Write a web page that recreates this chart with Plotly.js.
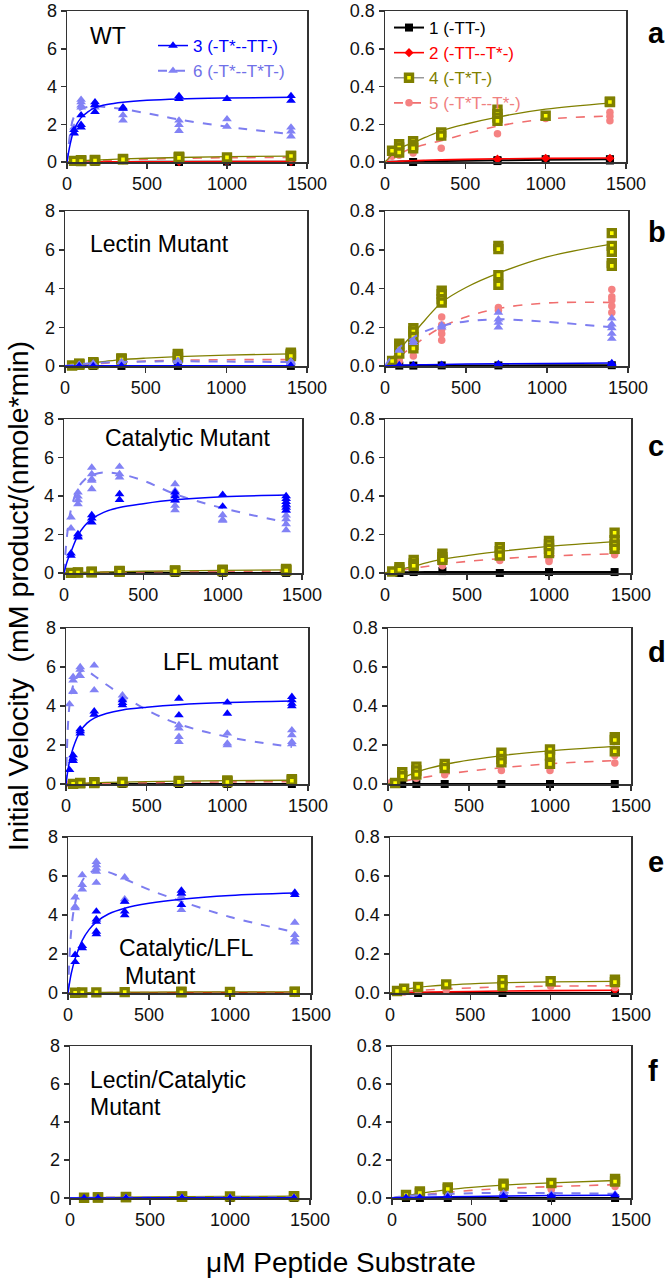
<!DOCTYPE html>
<html><head><meta charset="utf-8">
<script src="https://cdn.plot.ly/plotly-3.0.1.min.js"></script>
<style>html,body{margin:0;padding:0;background:#fff}#chart{width:666px;height:1278px}</style>
</head><body><div id="chart"></div>
<script>
// ---------------- DATA ----------------
const CONC = [22, 44, 88, 175, 350, 700, 1000, 1400];          // µM peptide substrate
const FIT_X = [0, 20, 44, 88, 130, 175, 250, 350, 500, 700, 1000, 1400];
const SERIES_NAMES = {1:'1 (-TT-)', 2:'2 (-TT--T*-)', 3:'3 (-T*--TT-)', 4:'4 (-T*T-)', 5:'5 (-T*T--T*-)', 6:'6 (-T*--T*T-)'};
const PANEL_LETTERS = ['a','b','c','d','e','f'];
const PANEL_LABELS = [['WT'], ['Lectin Mutant'], ['Catalytic Mutant'], ['LFL mutant'], ['Catalytic/LFL','Mutant'], ['Lectin/Catalytic','Mutant']];
const X_TICKS = [0, 500, 1000, 1500];
const LEFT_TICKS = [0, 2, 4, 6, 8];
const RIGHT_TICKS = [0, 0.2, 0.4, 0.6, 0.8];
const X_TITLE = 'μM Peptide Substrate';
const Y_TITLE = 'Initial Velocity  (mM product/(nmole*min)';

// replicate values per concentration (aligned with CONC), and fitted curve values at FIT_X
// panel a (WT)
const a1 = [[],[],[],[0.0],[],[0.01,0.005],[0.015],[0.015,0.008]];
const a1Fit = [0,0.001,0.001,0.002,0.003,0.003,0.004,0.005,0.007,0.009,0.012,0.015];
const a2 = [[],[],[],[],[],[0.015],[0.02],[0.02]];
const a2Fit = [0,0.001,0.002,0.004,0.005,0.007,0.009,0.011,0.014,0.017,0.019,0.021];
const a3 = [[],[1.53,1.7],[2.48,1.97,1.83],[3.17,3.03,2.65],[2.9,2.83],[3.5,3.35],[3.35],[3.5,3.25]];
const a3Fit = [0,0.95,1.7,2.35,2.65,2.88,3.05,3.17,3.27,3.34,3.39,3.43];
const a4 = [[],[0.06],[0.094,0.077,0.05],[0.11,0.09,0.073],[0.157,0.14],[0.277,0.255,0.235,0.218],[0.245],[0.32,0.318]];
const a4Fit = [0,0.018,0.038,0.07,0.088,0.103,0.13,0.165,0.2,0.238,0.28,0.312];
const a5 = [[],[0.031],[0.043,0.036],[0.048,0.06],[0.073],[0.15],[0.23],[0.264,0.242,0.218]];
const a5Fit = [0,0.013,0.027,0.045,0.06,0.074,0.093,0.113,0.148,0.19,0.227,0.243];
const a6 = [[],[1.83,1.5],[3.3,3.17,3.0,2.9],[3.0,2.9],[2.83,2.48,2.2],[2.2,1.97,1.65],[2.27,1.88],[1.83,1.62,1.36]];
const a6Fit = [0,1.5,2.4,2.8,2.92,2.95,2.9,2.8,2.58,2.25,1.87,1.47];
// panel b (Lectin mutant)
const b1 = [[],[],[0.002],[0.002],[0.003],[0.003],[],[0.004]];
const b1Fit = [0,0,0,0.001,0.001,0.001,0.002,0.002,0.003,0.003,0.004,0.004];
const b2 = null, b2Fit = null;
const b3 = [[],[],[0.005],[0.005],[0.007],[0.01],[],[0.015,0.01]];
const b3Fit = [0,0.001,0.002,0.004,0.005,0.006,0.007,0.008,0.01,0.011,0.013,0.015];
const b4 = [[],[0.026],[0.115,0.103,0.09,0.064],[0.195,0.178,0.15,0.109,0.091],[0.388,0.371,0.345,0.328],[0.62,0.603,0.469,0.419],[],[0.686,0.62,0.59,0.531,0.517]];
const b4Fit = [0,0.018,0.04,0.082,0.125,0.167,0.24,0.328,0.405,0.479,0.563,0.629];
const b5 = [[],[],[0.043,0.026],[0.112,0.078,0.052],[0.253,0.212,0.19,0.167,0.133],[0.302,0.288],[],[0.395,0.357,0.34,0.31,0.276]];
const b5Fit = [0,0.008,0.02,0.048,0.076,0.103,0.15,0.2,0.253,0.297,0.325,0.328];
const b6 = [[],[],[0.08],[0.13,0.12],[0.21,0.2],[0.276,0.241,0.224,0.2],[],[0.246,0.215,0.195,0.167,0.141]];
const b6Fit = [0,0.025,0.052,0.095,0.122,0.147,0.18,0.207,0.23,0.241,0.228,0.2];
// panel c (Catalytic mutant)
const c1 = [[],[],[0.0],[0.01,0.005],[0.01],[0.0],[0.005],[0.005]];
const c1Fit = [0,0.001,0.002,0.003,0.004,0.004,0.005,0.005,0.005,0.005,0.005,0.005];
const c2 = null, c2Fit = null;
const c3 = [[],[1.02,0.9],[2.02,1.9,1.85],[3.01,2.84,2.63],[4.1,3.8],[4.19,4.0,3.79],[4.07,3.46],[4.0,3.85,3.7,3.55,3.4,3.25]];
const c3Fit = [0,0.6,1.1,1.95,2.45,2.8,3.15,3.4,3.6,3.8,3.96,4.05];
const c4 = [[],[0.008],[0.03,0.017],[0.068,0.05,0.038],[0.1,0.082,0.068],[0.134,0.113,0.091],[0.166,0.148,0.126,0.103],[0.209,0.17,0.147,0.126]];
const c4Fit = [0,0.003,0.007,0.016,0.026,0.035,0.052,0.072,0.09,0.112,0.138,0.163];
const c5 = [[],[0.005],[],[],[0.038],[0.065],[0.07,0.06],[0.1,0.095]];
const c5Fit = [0,0.003,0.007,0.013,0.019,0.024,0.034,0.046,0.06,0.074,0.088,0.1];
const c6 = [[],[2.89,2.32],[4.19,3.98,3.79,3.58],[5.48,5.14,4.88,4.8,4.36],[5.52,5.14,4.97],[4.62,4.27,4.07,3.75,3.5,3.27],[3.01,2.77,2.72],[3.5,3.24,3.0,2.8,2.54,2.23]];
const c6Fit = [0,2.0,3.3,4.4,4.85,5.08,5.22,5.15,4.8,4.1,3.37,2.63];
// panel d (LFL mutant)
const d1 = [[],[0],[0],[0],[0],[0],[0],[0]];
const d1Fit = [0,0,0,0,0,0,0,0,0,0,0,0];
const d2 = null, d2Fit = null;
const d3 = [[0.72],[1.48,1.31,1.19],[2.81,2.71,2.59],[3.73,3.56],[4.3,4.16,4.04],[4.38,3.53],[4.18,3.61],[4.47,4.3,4.12,3.99]];
const d3Fit = [0,1.1,1.85,2.7,3.12,3.38,3.62,3.8,3.94,4.07,4.18,4.26];
const d4 = [[],[0.005],[0.06,0.04],[0.089,0.069,0.048],[0.103,0.082],[0.16,0.129,0.111],[0.177,0.146,0.103],[0.24,0.226,0.168]];
const d4Fit = [0,0.005,0.012,0.03,0.046,0.06,0.08,0.1,0.122,0.146,0.17,0.193];
const d5 = [[0.01],[0.012],[],[0.03],[0.048],[0.069],[0.069],[0.146,0.108]];
const d5Fit = [0,0.003,0.006,0.013,0.02,0.027,0.038,0.05,0.066,0.083,0.104,0.12];
const d6 = [[4.09],[5.49,5.32,4.76,4.72],[6.0,5.86,5.54],[6.08,4.81],[4.55,4.38],[3.02,2.85,2.42,2.16],[2.59,2.08,1.99],[2.76,2.51,2.16,2.05]];
const d6Fit = [0,3.9,5.05,5.75,5.78,5.55,5.1,4.55,3.8,3.07,2.42,1.9];
// panel e (Catalytic/LFL mutant)
const e1 = [[],[],[],[0],[],[0],[],[0]];
const e1Fit = [0,0,0,0,0,0,0,0,0,0,0,0];
const e2 = [[],[],[],[],[],[],[],[0.015]];
const e2Fit = [0,0.001,0.001,0.002,0.003,0.004,0.005,0.006,0.008,0.01,0.012,0.014];
const e3 = [[],[1.96,1.59],[2.42,2.3],[4.18,3.78,3.66,3.15,3.02],[4.69,4.18,4.0],[5.25,5.11,4.52],[],[5.15,5.03]];
const e3Fit = [0,1.0,1.75,2.7,3.25,3.65,4.05,4.35,4.6,4.81,5.0,5.13];
const e4 = [[],[0.01],[0.022],[0.031],[0.044],[0.065,0.036],[0.06],[0.068,0.056]];
const e4Fit = [0,0.005,0.01,0.018,0.024,0.029,0.035,0.041,0.047,0.053,0.057,0.06];
const e5 = [[],[0.004],[0.005],[0.01],[0.015],[0.03],[0.035],[0.035,0.028]];
const e5Fit = [0,0.002,0.004,0.007,0.01,0.013,0.017,0.021,0.026,0.031,0.035,0.037];
const e6 = [[],[4.91,4.43,4.35],[6.05,5.54,5.32],[6.73,6.56,6.39,6.22,5.66],[5.93,4.81,4.69],[5.08,4.94,4.26],[],[3.61,2.98,2.76,2.59]];
const e6Fit = [0,3.2,4.6,5.75,6.15,6.28,6.2,5.85,5.3,4.7,3.9,3.12];
// panel f (Lectin/Catalytic mutant)
const f1 = [[],[],[0],[0],[0],[0],[0],[0]];
const f1Fit = [0,0,0,0,0,0,0,0,0,0,0,0];
const f2 = null, f2Fit = null;
const f3 = [[],[],[0.002],[0.003],[0.005],[0.01],[0.012],[0.015]];
const f3Fit = [0,0.001,0.001,0.002,0.003,0.004,0.005,0.006,0.008,0.01,0.013,0.015];
const f4 = [[],[],[0.016],[0.035,0.026],[0.056,0.047],[0.075,0.065],[0.079],[0.1,0.087]];
const f4Fit = [0,0.003,0.006,0.012,0.018,0.024,0.033,0.044,0.056,0.068,0.08,0.092];
const f5 = [[],[],[],[0.012],[0.03],[0.04],[0.05,0.045],[0.07,0.06]];
const f5Fit = [0,0.002,0.004,0.008,0.012,0.016,0.022,0.03,0.04,0.05,0.06,0.07];
const f6 = [[],[],[],[],[0.015],[0.025],[0.02],[0.02]];
const f6Fit = [0,0.003,0.006,0.01,0.013,0.015,0.018,0.021,0.025,0.027,0.026,0.022];

const PANEL_DATA = [
  {1:[a1,a1Fit],2:[a2,a2Fit],3:[a3,a3Fit],4:[a4,a4Fit],5:[a5,a5Fit],6:[a6,a6Fit]},
  {1:[b1,b1Fit],2:[b2,b2Fit],3:[b3,b3Fit],4:[b4,b4Fit],5:[b5,b5Fit],6:[b6,b6Fit]},
  {1:[c1,c1Fit],2:[c2,c2Fit],3:[c3,c3Fit],4:[c4,c4Fit],5:[c5,c5Fit],6:[c6,c6Fit]},
  {1:[d1,d1Fit],2:[d2,d2Fit],3:[d3,d3Fit],4:[d4,d4Fit],5:[d5,d5Fit],6:[d6,d6Fit]},
  {1:[e1,e1Fit],2:[e2,e2Fit],3:[e3,e3Fit],4:[e4,e4Fit],5:[e5,e5Fit],6:[e6,e6Fit]},
  {1:[f1,f1Fit],2:[f2,f2Fit],3:[f3,f3Fit],4:[f4,f4Fit],5:[f5,f5Fit],6:[f6,f6Fit]}
];

// ---------------- STYLE / LAYOUT ----------------
const FONT = 'Liberation Sans, Arial, Helvetica, sans-serif';
const W = 666, H = 1278;
const STYLE = {
  1:{fill:'#000000', edge:'#000000', edgeW:0, symbol:'square', size:8, line:'#000000', lw:2, dash:'solid', legLine:'#000000', text:'#000000'},
  2:{fill:'#ff0000', edge:'#ff0000', edgeW:0, symbol:'diamond', size:7, line:'#ff0000', lw:1.6, dash:'solid', legLine:'#ff0000', text:'#ff0000'},
  3:{fill:'#0000ff', edge:'#0000ff', edgeW:0, symbol:'triangle-up', size:8.5, line:'#0000ff', lw:1.5, dash:'solid', legLine:'#0000ff', text:'#0000ff'},
  4:{fill:'#ffff00', edge:'#7f7f00', edgeW:3.4, symbol:'square', size:7, line:'#808000', lw:1.3, dash:'solid', legLine:'#999999', text:'#808000'},
  5:{fill:'#f58282', edge:'#f58282', edgeW:0, symbol:'circle', size:7.5, line:'#f06e6e', lw:1.6, dash:'dash', legLine:'#f06e6e', text:'#f08080'},
  6:{fill:'#8282f5', edge:'#8282f5', edgeW:0, symbol:'triangle-up', size:8.5, line:'#7d7df0', lw:2, dash:'dash', legLine:'#7d7df0', text:'#7070e8'}
};
const DRAW_ORDER = [1, 2, 5, 4, 6, 3];
// pixel boxes [x0, x1] and [ytop, ybottom]
const LEFT_X = [[67,307],[65,307],[64,302],[66,308],[68,311],[70,310]];
const RIGHT_X = [[385,626],[385,628],[385,631],[388,631],[390,631],[392,631]];
const ROW_Y = [[11,162],[211,366],[419,573],[628,784],[837,993],[1046,1198]];

const px = v => v / W, py = v => 1 - v / H;
const traces = [];
const layout = {
  width: W, height: H, margin:{l:0,r:0,t:0,b:0},
  paper_bgcolor:'#ffffff', plot_bgcolor:'#ffffff',
  font:{family:FONT, size:18, color:'#000'},
  showlegend:true,
  legend:{x:px(153), y:py(28), xanchor:'left', yanchor:'top', bgcolor:'rgba(0,0,0,0)', font:{size:17, family:FONT}, itemwidth:30, tracegroupgap:0},
  legend2:{x:px(389), y:py(10), xanchor:'left', yanchor:'top', bgcolor:'rgba(0,0,0,0)', font:{size:17, family:FONT}, itemwidth:30, tracegroupgap:0},
  annotations:[]
};

function axisBase(domain, range, tickvals, fmt){
  return {domain, range, tickvals, ticktext: tickvals.map(v => fmt ? v.toFixed(1) : String(v)),
    ticks:'outside', ticklen:5, tickwidth:1.5, tickcolor:'#333', showline:true, linecolor:'#333',
    linewidth:1.5, mirror:true, showgrid:false, zeroline:false, fixedrange:true, ticklabeloverflow:'allow',
    tickfont:{size:18, family:FONT, color:'#111'}};
}

function flatten(reps){
  const xs = [], ys = [];
  reps.forEach((arr, i) => arr.forEach(v => { xs.push(CONC[i]); ys.push(v); }));
  return [xs, ys];
}

PANEL_DATA.forEach((pd, i) => {
  const kL = 2*i + 1, kR = 2*i + 2;
  const yDom = [py(ROW_Y[i][1]), py(ROW_Y[i][0])];
  layout['xaxis' + (kL === 1 ? '' : kL)] = Object.assign(axisBase([px(LEFT_X[i][0]), px(LEFT_X[i][1])], [0,1500], X_TICKS, false), {anchor:'y' + (kL === 1 ? '' : kL)});
  layout['yaxis' + (kL === 1 ? '' : kL)] = Object.assign(axisBase(yDom, [0,8], LEFT_TICKS, false), {anchor:'x' + (kL === 1 ? '' : kL)});
  layout['xaxis' + kR] = Object.assign(axisBase([px(RIGHT_X[i][0]), px(RIGHT_X[i][1])], [0,1500], X_TICKS, false), {anchor:'y' + kR});
  layout['yaxis' + kR] = Object.assign(axisBase(yDom, [0,0.8], RIGHT_TICKS, true), {anchor:'x' + kR});

  [[kL, 8], [kR, 0.8]].forEach(([k, ymax]) => {
    const xa = 'x' + (k === 1 ? '' : k), ya = 'y' + (k === 1 ? '' : k);
    DRAW_ORDER.forEach(s => {
      const [reps, fit] = pd[s];
      if (!reps) return;
      const [xs, ys] = flatten(reps);
      const maxV = Math.max(...ys, ...(fit || [0]));
      if (maxV > ymax) return;
      const st = STYLE[s];
      if (fit) traces.push({type:'scatter', mode:'lines', x:FIT_X, y:fit, xaxis:xa, yaxis:ya, showlegend:false, hoverinfo:'skip',
        line:{color:st.line, width:st.lw, dash:st.dash, shape:'spline', smoothing:1}});
      traces.push({type:'scatter', mode:'markers', x:xs, y:ys, xaxis:xa, yaxis:ya, showlegend:false, cliponaxis:false,
        marker:{symbol:st.symbol, size:st.size, color:st.fill, line:{color:st.edge, width:st.edgeW}}});
    });
  });

  // panel letter
  layout.annotations.push({xref:'paper', yref:'paper', x:px(646), y:py([44,243,457,663,873,1082][i] + 7), xanchor:'left', yanchor:'bottom',
    text:'<b>' + PANEL_LETTERS[i] + '</b>', showarrow:false, font:{size:29, family:FONT, color:'#000'}});
});

// panel labels (left x, vertical centre in px)
const LABEL_POS = [[[88,36]], [[88,244]], [[103,438]], [[161,662]], [[117,948],[123,976]], [[88,1080],[88,1107]]];
PANEL_LABELS.forEach((lines, i) => lines.forEach((t, j) => {
  layout.annotations.push({xref:'paper', yref:'paper', x:px(LABEL_POS[i][j][0]), y:py(LABEL_POS[i][j][1]), xanchor:'left', yanchor:'middle',
    text:t, showarrow:false, font:{size:23, family:FONT, color:'#000'}});
}));

// axis titles
layout.annotations.push({xref:'paper', yref:'paper', x:px(341), y:py(1262), xanchor:'center', yanchor:'middle', text:X_TITLE, showarrow:false, font:{size:28, family:FONT, color:'#000'}});
layout.annotations.push({xref:'paper', yref:'paper', x:px(18), y:py(596), xanchor:'center', yanchor:'middle', textangle:-90, text:Y_TITLE, showarrow:false, font:{size:28.5, family:FONT, color:'#000'}});

// legend entries
[[3,'legend','x','y'],[6,'legend','x','y'],[1,'legend2','x2','y2'],[2,'legend2','x2','y2'],[4,'legend2','x2','y2'],[5,'legend2','x2','y2']].forEach(([s, lg, xa, ya]) => {
  const st = STYLE[s];
  traces.push({type:'scatter', mode:'lines+markers', x:[null], y:[null], xaxis:xa, yaxis:ya, legend:lg, showlegend:true,
    name:'<span style="color:' + st.text + '">' + SERIES_NAMES[s] + '</span>',
    line:{color:st.legLine, width:Math.max(st.lw,1.5), dash:st.dash},
    marker:{symbol:st.symbol, size:st.size, color:st.fill, line:{color:st.edge, width:st.edgeW}}});
});

Plotly.newPlot('chart', traces, layout, {staticPlot:true, displayModeBar:false});
</script>
</body></html>
